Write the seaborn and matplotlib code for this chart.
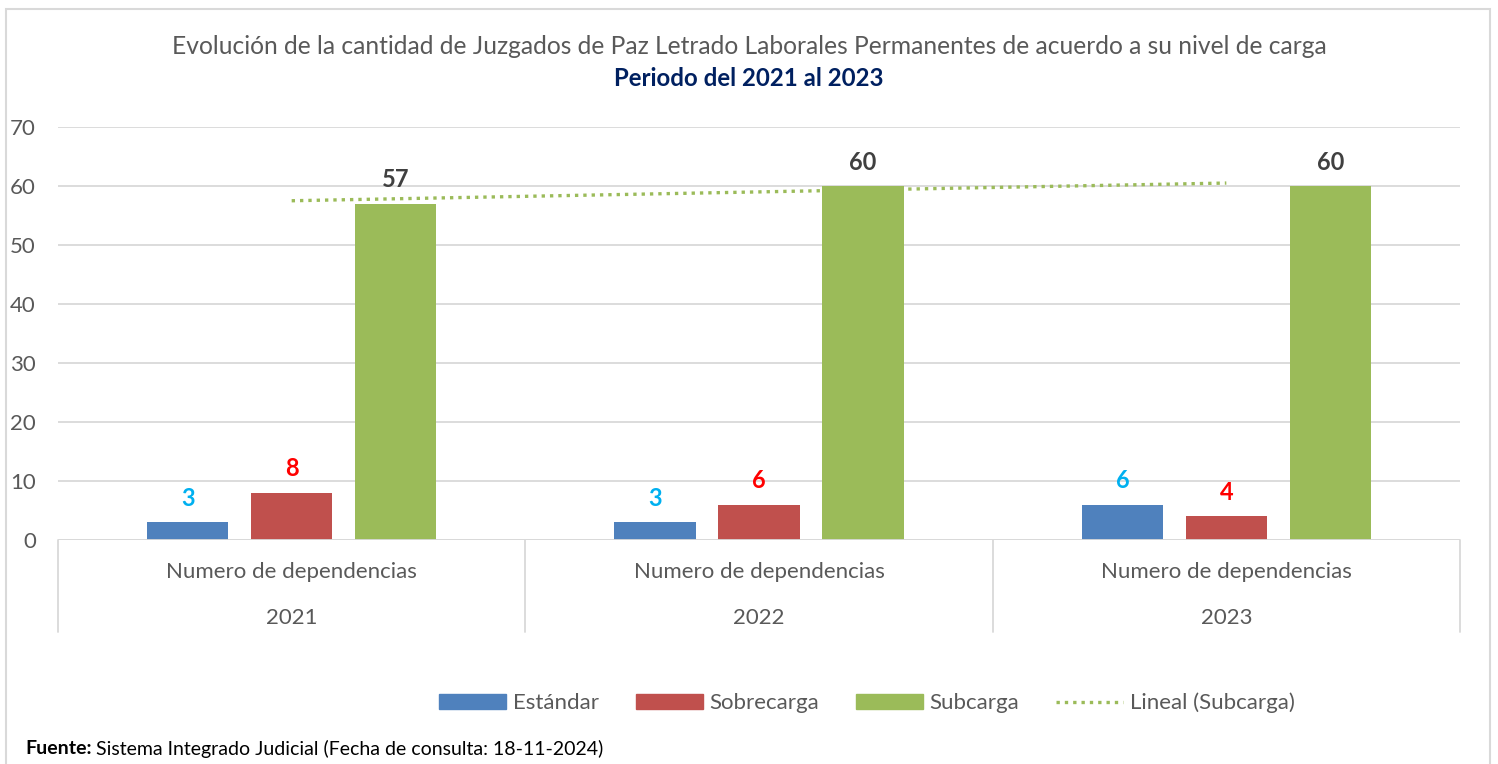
import numpy as np
import pandas as pd
import seaborn as sns
import matplotlib.pyplot as plt
from matplotlib.patches import Patch, Rectangle
from matplotlib.lines import Line2D

# values
years = ["2021", "2022", "2023"]
niveles = ["Estándar", "Sobrecarga", "Subcarga"]
estandar = [3, 3, 6]
sobrecarga = [8, 6, 4]
subcarga = [57, 60, 60]
yticks = [0, 10, 20, 30, 40, 50, 60, 70]

colors = {"Estándar": "#4F81BD", "Sobrecarga": "#C0504D", "Subcarga": "#9BBB59"}
label_colors = {"Estándar": "#00B0F0", "Sobrecarga": "#FF0000", "Subcarga": "#404040"}
grid_c = "#D9D9D9"
text_c = "#595959"

df = pd.DataFrame({
    "year": years * 3,
    "nivel": np.repeat(niveles, 3),
    "valor": estandar + sobrecarga + subcarga,
})

sns.set_theme(style="white")
plt.rcParams["font.family"] = ["Lato", "DejaVu Sans"]

fig = plt.figure(figsize=(14.98, 7.64), dpi=100)
ax = fig.add_axes([58 / 1498, 1 - 540 / 764, (1460 - 58) / 1498, (540 - 127) / 764])

sns.barplot(data=df, x="year", y="valor", hue="nivel", order=years,
            hue_order=niveles, palette=colors, width=0.6675, gap=0.22,
            saturation=1, legend=False, linewidth=0, ax=ax)

# data labels
for cont, nivel in zip(ax.containers, niveles):
    ax.bar_label(cont, labels=[f"{v:.0f}" for v in cont.datavalues],
                 padding=9, color=label_colors[nivel], fontsize=17,
                 fontweight="bold")

# linear trendline of Subcarga
xpos = np.arange(len(years))
k, b = np.polyfit(xpos, subcarga, 1)
ax.plot(xpos, k * xpos + b, color="#9BBB59", lw=2.4, ls=(0, (1, 1.5)))

ax.set_xlim(-0.5, 2.5)
ax.set_ylim(0, 70)
ax.set_yticks(yticks)
ax.yaxis.grid(True, color=grid_c, lw=1.3)
ax.set_axisbelow(True)
for s in ax.spines.values():
    s.set_visible(False)
ax.tick_params(axis="y", labelsize=16, labelcolor=text_c, pad=16, length=0)
ax.set_xticks([])
ax.set_xlabel("")
ax.set_ylabel("")
ax.axhline(0, color=grid_c, lw=1.3)

# two-level category axis
for xb in [-0.5, 0.5, 1.5, 2.5]:
    ax.axvline(xb, ymin=-0.223, ymax=0, color=grid_c, lw=1.3, clip_on=False)
for i, y in enumerate(years):
    ax.text(i, -0.077, "Numero de dependencias", transform=ax.get_xaxis_transform(),
            ha="center", va="center", fontsize=16, color=text_c)
    ax.text(i, -0.188, y, transform=ax.get_xaxis_transform(),
            ha="center", va="center", fontsize=16, color=text_c)

# titles
fig.text(0.5, 1 - 46 / 764, "Evolución de la cantidad de Juzgados de Paz Letrado Laborales "
         "Permanentes de acuerdo a su nivel de carga",
         ha="center", va="center", fontsize=17.7, color=text_c)
fig.text(0.5, 1 - 78 / 764, "Periodo del 2021 al 2023", ha="center", va="center",
         fontsize=17.3, fontweight="bold", color="#002060")

# legend
handles = [Patch(color=colors[n]) for n in niveles]
handles.append(Line2D([], [], color="#9BBB59", lw=2.4, ls=(0, (1, 1.5))))
fig.legend(handles, niveles + ["Lineal (Subcarga)"], loc="center",
           bbox_to_anchor=(867 / 1498, 1 - 703 / 764), ncol=4, frameon=False,
           fontsize=16, handlelength=3.0, handleheight=0.63, columnspacing=1.67,
           handletextpad=0.3, labelcolor=text_c)

# outer chart border
fig.patches.append(Rectangle((6 / 1498, -0.05), (1490 - 6) / 1498, 1.05 - 9 / 764,
                             transform=fig.transFigure, fill=False,
                             edgecolor=grid_c, lw=1.5))

# source note
t1 = fig.text(25 / 1498, 1 - 749 / 764, "Fuente:", fontsize=14, fontweight="bold",
              color="black", va="center")
fig.canvas.draw()
bb = t1.get_window_extent()
fig.text(bb.x1 / 1498 + 0.003, 1 - 749 / 764,
         "Sistema Integrado Judicial (Fecha de consulta: 18-11-2024)",
         fontsize=14, color="black", va="center")

fig.savefig("out.png", dpi=100)
